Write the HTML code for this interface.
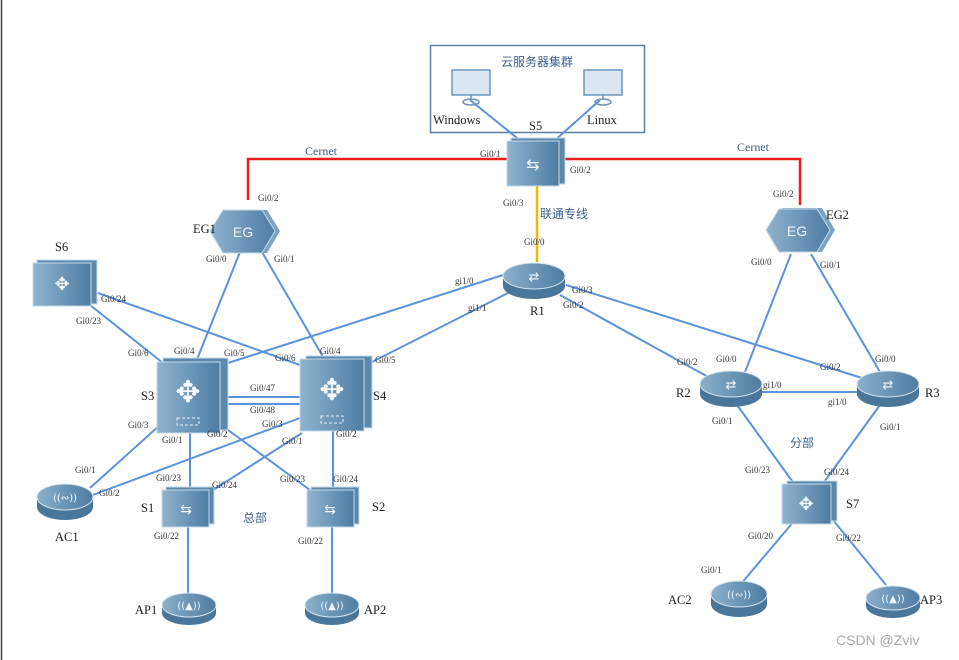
<!DOCTYPE html>
<html><head><meta charset="utf-8"><style>
html,body{margin:0;padding:0;background:#fff;width:959px;height:660px;overflow:hidden}
svg text{font-family:"Liberation Serif","Noto Serif CJK SC",serif}
.g{font-size:9px;fill:#333}
.n{font-size:12.5px;fill:#222}
.c{font-size:12px;fill:#3a5f8f;font-family:"Liberation Sans","Noto Sans CJK SC",sans-serif}
.w{fill:#f2f7fb;font-family:"DejaVu Sans",sans-serif}
</style></head><body>
<svg width="959" height="660" viewBox="0 0 959 660" xmlns="http://www.w3.org/2000/svg">
<defs>
<linearGradient id="dg" x1="0" x2="1" y1="0" y2="0"><stop offset="0" stop-color="#8fb3cf"/><stop offset="1" stop-color="#4e7ca3"/></linearGradient>
<linearGradient id="rg" x1="0" x2="1" y1="0" y2="0"><stop offset="0" stop-color="#8ab0cc"/><stop offset="1" stop-color="#4f7ca0"/></linearGradient>
</defs>
<line x1="1.5" y1="0" x2="1.5" y2="660" stroke="#444" stroke-width="1.5"/>
<rect x="430.5" y="45.5" width="214" height="87" fill="none" stroke="#5a7fa5" stroke-width="1.5"/>
<text x="537" y="66" class="c" text-anchor="middle">云服务器集群</text>
<polyline points="248,200 248,159 800,159 800,205" fill="none" stroke="#ee1c1c" stroke-width="2.5"/>
<line x1="537" y1="185" x2="537" y2="262" stroke="#f5b800" stroke-width="2.5"/>
<g stroke="#5b93dc" stroke-width="2" fill="none">
<line x1="470" y1="100" x2="522" y2="142"/><line x1="600" y1="100" x2="553" y2="142"/>
<line x1="240" y1="252" x2="196" y2="362"/><line x1="262" y1="252" x2="326" y2="362"/>
<line x1="98" y1="293" x2="300" y2="365"/><line x1="90" y1="305" x2="163" y2="363"/>
<line x1="503" y1="275" x2="228" y2="363"/><line x1="510" y1="292" x2="372" y2="362"/>
<line x1="560" y1="295" x2="710" y2="378"/><line x1="566" y1="285" x2="862" y2="378"/>
<line x1="791" y1="254" x2="745" y2="372"/><line x1="811" y1="254" x2="880" y2="372"/>
<line x1="762" y1="392" x2="857" y2="392"/>
<line x1="222" y1="397" x2="300" y2="397"/><line x1="222" y1="404" x2="300" y2="404"/>
<line x1="160" y1="425" x2="90" y2="488"/><line x1="300" y1="418" x2="90" y2="496"/>
<line x1="190" y1="432" x2="190" y2="490"/><line x1="228" y1="430" x2="310" y2="490"/>
<line x1="302" y1="433" x2="210" y2="492"/><line x1="333" y1="428" x2="333" y2="490"/>
<line x1="188" y1="525" x2="188" y2="598"/><line x1="332" y1="525" x2="332" y2="598"/>
<line x1="737" y1="405" x2="795" y2="485"/><line x1="880" y1="405" x2="822" y2="485"/>
<line x1="795" y1="520" x2="740" y2="585"/><line x1="833" y1="520" x2="886" y2="585"/>
</g>
<g fill="none" stroke="#6a96bd" stroke-width="1.5">
<rect x="452" y="70" width="38" height="25" fill="#dbe8f3"/><line x1="471" y1="95" x2="471" y2="100"/><ellipse cx="471" cy="102" rx="8" ry="3"/>
<rect x="584" y="70" width="38" height="25" fill="#dbe8f3"/><line x1="603" y1="95" x2="603" y2="100"/><ellipse cx="603" cy="102" rx="8" ry="3"/>
</g>
<text x="433" y="124" class="n">Windows</text><text x="587" y="124" class="n">Linux</text>
<text x="529" y="130" class="n">S5</text>
<g stroke="#c5d8e8" stroke-width="1">
<rect x="511" y="138" width="54" height="46" fill="#5d88ad"/><rect x="507" y="141" width="52" height="45" fill="url(#dg)"/>
<rect x="37" y="260" width="60" height="44" fill="#5d88ad"/><rect x="33" y="263" width="58" height="43" fill="url(#dg)"/>
<rect x="163" y="358" width="65" height="72" fill="#5d88ad"/><rect x="157" y="362" width="63" height="71" fill="url(#dg)"/>
<rect x="306" y="356" width="66" height="72" fill="#5d88ad"/><rect x="300" y="359" width="64" height="72" fill="url(#dg)"/>
<rect x="166" y="487" width="48" height="37" fill="#5d88ad"/><rect x="162" y="490" width="47" height="37" fill="url(#dg)"/>
<rect x="311" y="487" width="48" height="37" fill="#5d88ad"/><rect x="307" y="490" width="47" height="37" fill="url(#dg)"/>
<rect x="787" y="481" width="50" height="40" fill="#5d88ad"/><rect x="782" y="484" width="49" height="40" fill="url(#dg)"/>
</g>
<text x="533" y="170" font-size="16" text-anchor="middle" class="w">⇆</text>
<text x="62" y="290" font-size="18" text-anchor="middle" class="w">✥</text>
<text x="188" y="402" font-size="30" text-anchor="middle" class="w">✥</text>
<text x="332" y="400" font-size="30" text-anchor="middle" class="w">✥</text>
<rect x="177" y="418" width="22" height="7" fill="none" stroke="#e8f0f7" stroke-dasharray="3,2"/>
<rect x="321" y="416" width="22" height="7" fill="none" stroke="#e8f0f7" stroke-dasharray="3,2"/>
<text x="186" y="514" font-size="14" text-anchor="middle" class="w">⇆</text>
<text x="330" y="514" font-size="14" text-anchor="middle" class="w">⇆</text>
<text x="806" y="510" font-size="18" text-anchor="middle" class="w">✥</text>
<polygon points="227,210 267,210 280,231 267,253 227,253 214,231" fill="#7aa3c4"/>
<polygon points="223,210 262,210 275,231 262,253 223,253 210,231" fill="url(#dg)" stroke="#c5d8e8"/>
<text x="243" y="237" font-size="14" text-anchor="middle" style="fill:#eef4fa;font-family:'Liberation Sans',sans-serif">EG</text>
<polygon points="782,208 822,208 835,230 822,252 782,252 769,230" fill="#7aa3c4"/>
<polygon points="779,209 817,209 830,230 817,252 779,252 766,230" fill="url(#dg)" stroke="#c5d8e8"/>
<text x="797" y="236" font-size="14" text-anchor="middle" style="fill:#eef4fa;font-family:'Liberation Sans',sans-serif">EG</text>
<g>
<g transform="translate(534,276)"><path d="M-31,0 v10 a31,13 0 0 0 62,0 v-10z" fill="#4a7699"/><ellipse rx="31" ry="13" fill="url(#rg)" stroke="#d6e4ef"/><text y="5" font-size="13" text-anchor="middle" class="w">⇄</text></g>
<g transform="translate(731,384)"><path d="M-31,0 v10 a31,13 0 0 0 62,0 v-10z" fill="#4a7699"/><ellipse rx="31" ry="13" fill="url(#rg)" stroke="#d6e4ef"/><text y="5" font-size="13" text-anchor="middle" class="w">⇄</text></g>
<g transform="translate(888,384)"><path d="M-31,0 v10 a31,13 0 0 0 62,0 v-10z" fill="#4a7699"/><ellipse rx="31" ry="13" fill="url(#rg)" stroke="#d6e4ef"/><text y="5" font-size="13" text-anchor="middle" class="w">⇄</text></g>
<g transform="translate(65,497)"><path d="M-28,0 v10 a28,13 0 0 0 56,0 v-10z" fill="#4a7699"/><ellipse rx="28" ry="13" fill="url(#rg)" stroke="#d6e4ef"/><text y="4" font-size="10" text-anchor="middle" class="w">((∾))</text></g>
<g transform="translate(739,594)"><path d="M-28,0 v10 a28,13 0 0 0 56,0 v-10z" fill="#4a7699"/><ellipse rx="28" ry="13" fill="url(#rg)" stroke="#d6e4ef"/><text y="4" font-size="10" text-anchor="middle" class="w">((∾))</text></g>
<g transform="translate(189,605)"><path d="M-27,0 v8 a27,12 0 0 0 54,0 v-8z" fill="#4a7699"/><ellipse rx="27" ry="12" fill="url(#rg)" stroke="#d6e4ef"/><text y="4" font-size="10" text-anchor="middle" class="w">((▲))</text></g>
<g transform="translate(332,605)"><path d="M-27,0 v8 a27,12 0 0 0 54,0 v-8z" fill="#4a7699"/><ellipse rx="27" ry="12" fill="url(#rg)" stroke="#d6e4ef"/><text y="4" font-size="10" text-anchor="middle" class="w">((▲))</text></g>
<g transform="translate(893,598)"><path d="M-27,0 v8 a27,12 0 0 0 54,0 v-8z" fill="#4a7699"/><ellipse rx="27" ry="12" fill="url(#rg)" stroke="#d6e4ef"/><text y="4" font-size="10" text-anchor="middle" class="w">((▲))</text></g>
</g>
<text x="193" y="233" class="n">EG1</text><text x="826" y="219" class="n">EG2</text>
<text x="55" y="251" class="n">S6</text><text x="141" y="400" class="n">S3</text><text x="373" y="400" class="n">S4</text>
<text x="530" y="315" class="n">R1</text><text x="676" y="397" class="n">R2</text><text x="925" y="397" class="n">R3</text>
<text x="141" y="512" class="n">S1</text><text x="372" y="511" class="n">S2</text><text x="846" y="508" class="n">S7</text>
<text x="55" y="541" class="n">AC1</text><text x="668" y="604" class="n">AC2</text>
<text x="135" y="614" class="n">AP1</text><text x="364" y="614" class="n">AP2</text><text x="920" y="604" class="n">AP3</text>
<text x="305" y="155" font-size="12" fill="#3a5f8f">Cernet</text><text x="737" y="151" font-size="12" fill="#3a5f8f">Cernet</text>
<text x="540" y="218" class="c">联通专线</text><text x="243" y="522" class="c">总部</text><text x="790" y="447" class="c">分部</text>
<g class="g">
<text x="480" y="157">Gi0/1</text><text x="570" y="173">Gi0/2</text><text x="503" y="206">Gi0/3</text><text x="524" y="245">Gi0/0</text>
<text x="258" y="201">Gi0/2</text><text x="206" y="262">Gi0/0</text><text x="274" y="262">Gi0/1</text>
<text x="773" y="197">Gi0/2</text><text x="751" y="265">Gi0/0</text><text x="820" y="268">Gi0/1</text>
<text x="101" y="302">Gi0/24</text><text x="76" y="324">Gi0/23</text>
<text x="128" y="356">Gi0/6</text><text x="174" y="354">Gi0/4</text><text x="224" y="356">Gi0/5</text>
<text x="275" y="361">Gi0/6</text><text x="320" y="354">Gi0/4</text><text x="375" y="363">Gi0/5</text>
<text x="250" y="391">Gi0/47</text><text x="250" y="413">Gi0/48</text>
<text x="128" y="428">Gi0/3</text><text x="162" y="443">Gi0/1</text><text x="207" y="437">Gi0/2</text>
<text x="262" y="427">Gi0/3</text><text x="282" y="444">Gi0/1</text><text x="336" y="437">Gi0/2</text>
<text x="455" y="284">gi1/0</text><text x="468" y="311">gi1/1</text><text x="572" y="293">Gi0/3</text><text x="563" y="308">Gi0/2</text>
<text x="677" y="365">Gi0/2</text><text x="716" y="362">Gi0/0</text><text x="763" y="388">gi1/0</text>
<text x="820" y="370">Gi0/2</text><text x="875" y="362">Gi0/0</text><text x="828" y="405">gi1/0</text>
<text x="712" y="424">Gi0/1</text><text x="880" y="430">Gi0/1</text>
<text x="745" y="473">Gi0/23</text><text x="824" y="475">Gi0/24</text>
<text x="748" y="539">Gi0/20</text><text x="836" y="541">Gi0/22</text>
<text x="701" y="573">Gi0/1</text>
<text x="75" y="473">Gi0/1</text><text x="99" y="496">Gi0/2</text>
<text x="156" y="481">Gi0/23</text><text x="212" y="488">Gi0/24</text><text x="154" y="539">Gi0/22</text>
<text x="280" y="482">Gi0/23</text><text x="333" y="482">Gi0/24</text><text x="298" y="544">Gi0/22</text>
</g>
<text x="836" y="645" font-size="14" style="fill:#aaa;font-family:'Liberation Sans',sans-serif">CSDN @Zviv</text>
</svg>
</body></html>
